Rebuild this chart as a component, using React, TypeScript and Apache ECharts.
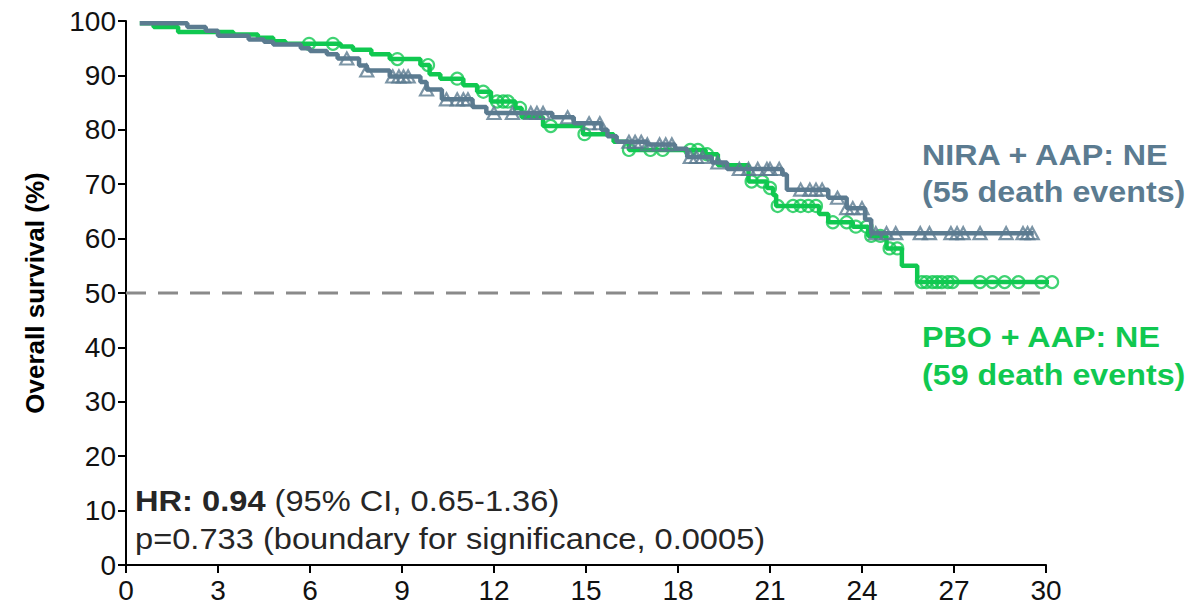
import React, { useEffect, useRef } from "react";
import * as echarts from "echarts";

// Kaplan-Meier step points [month, survival %] (value after each event)
const niraSteps: [number, number][] = [
  [0.45, 99.6], [2.0, 98.9], [2.6, 98.2], [3.0, 97.3], [4.0, 96.6], [4.5, 96.2],
  [4.8, 95.7], [5.7, 95.0], [6.0, 94.5], [6.55, 93.9], [6.9, 93.1], [7.6, 91.8],
  [7.85, 90.9], [8.6, 89.8], [9.6, 88.8], [9.8, 87.4], [10.3, 85.6], [11.3, 84.2],
  [11.75, 83.1], [13.9, 82.3], [14.6, 81.2], [15.5, 80.0], [15.7, 78.8], [16.0, 77.8],
  [17.0, 77.3], [17.9, 76.5], [18.3, 75.0], [19.1, 74.0], [19.6, 72.8], [21.4, 71.8],
  [21.55, 69.0], [22.9, 67.5], [23.5, 65.6], [24.1, 63.5], [24.3, 61.0], [29.6, 61.0],
];
const pboSteps: [number, number][] = [
  [0.45, 99.6], [0.9, 98.9], [1.7, 98.0], [3.5, 97.5], [4.3, 96.9], [4.8, 96.3],
  [5.2, 95.8], [7.0, 95.3], [7.4, 94.7], [8.0, 93.9], [8.6, 93.0], [9.6, 91.9],
  [9.9, 90.2], [10.25, 89.4], [11.0, 88.2], [11.45, 87.0], [11.9, 85.2], [12.7, 84.0],
  [12.9, 82.3], [13.6, 80.7], [14.9, 79.2], [15.9, 77.8], [16.4, 76.3], [18.9, 75.5],
  [19.3, 73.5], [20.3, 70.5], [20.9, 69.3], [21.1, 68.0], [21.2, 66.0], [22.6, 64.5],
  [22.9, 63.0], [23.7, 62.2], [24.2, 60.5], [24.8, 58.2], [25.3, 55.0], [25.8, 52.0],
  [30.2, 52.0],
];

// Censoring times (months)
const niraCensorTimes: number[] = [
  7.2, 7.85, 8.7, 8.9, 9.05, 9.2, 9.8, 10.45, 10.8, 11.0, 11.15, 12.0, 12.6, 13.2, 13.4,
  13.6, 14.4, 15.1, 15.45, 16.4, 16.6, 16.8, 17.0, 17.4, 17.6, 17.8, 18.4, 18.6, 18.8,
  19.3, 20.0, 20.3, 20.6, 20.9, 21.0, 21.3, 22.0, 22.3, 22.5, 22.7, 23.2, 23.5, 23.7,
  24.0, 24.45, 24.8, 25.1, 25.9, 26.2, 26.9, 27.1, 27.3, 27.85, 28.7, 29.25, 29.4, 29.55,
];
const pboCensorTimes: number[] = [
  5.97, 6.75, 8.85, 9.85, 10.8, 11.65, 12.1, 12.3, 12.45, 12.85, 13.85, 14.95, 16.4,
  17.1, 17.5, 18.4, 18.65, 18.95, 20.4, 20.75, 21.0, 21.25, 21.75, 22.0, 22.25, 22.5,
  23.05, 23.5, 23.8, 24.15, 24.3, 24.6, 24.9, 25.15, 25.95, 26.1, 26.3, 26.45, 26.6,
  26.8, 26.95, 27.85, 28.25, 28.65, 29.1, 29.85, 30.2,
];

const medianLine: [number, number][] = [[0, 50], [29.8, 50]];

const yAxisTitle = "Overall survival (%)";
const niraLabel = ["NIRA + AAP: NE", "(55 death events)"];
const pboLabel = ["PBO + AAP: NE", "(59 death events)"];
const hrBold = "HR: 0.94";
const hrRest = " (95% CI, 0.65-1.36)";
const pLine = "p=0.733 (boundary for significance, 0.0005)";

const GRAY = "#5b7b90";
const GREEN = "#10c850";
const FONT = "Arial, 'Liberation Sans', sans-serif";

function survivalAt(steps: [number, number][], t: number): number {
  let v = steps[0][1];
  for (const [x, y] of steps) if (x <= t) v = y;
  return v;
}

export default function App() {
  const ref = useRef<HTMLDivElement>(null);
  useEffect(() => {
    document.body.style.margin = "0";
    if (!ref.current) return;
    const chart = echarts.init(ref.current, null, { renderer: "svg" });
    const axisCommon = {
      type: "value" as const,
      axisLine: { show: true, lineStyle: { color: "#000", width: 2 } },
      axisTick: { show: true, length: 8, lineStyle: { color: "#000", width: 2 } },
      splitLine: { show: false },
      axisLabel: { fontSize: 28, color: "#111", fontFamily: FONT },
    };
    const labelText = (x: number, y: number, text: string, fill: string) => ({
      type: "text",
      x,
      y,
      scaleX: 1.075,
      style: { text, fontSize: 30, fontWeight: "bold", fontFamily: FONT, fill, verticalAlign: "middle" },
    });
    chart.setOption({
      animation: false,
      backgroundColor: "#fff",
      grid: { left: 126, top: 21, width: 920, height: 544 },
      xAxis: { ...axisCommon, min: 0, max: 30, interval: 3, axisLabel: { ...axisCommon.axisLabel, margin: 11 } },
      yAxis: { ...axisCommon, min: 0, max: 100, interval: 10, axisLabel: { ...axisCommon.axisLabel, margin: 10 } },
      series: [
        {
          type: "line",
          data: medianLine,
          symbol: "none",
          lineStyle: { color: "#8a8a8a", width: 3, type: [20, 12] },
          z: 1,
        },
        {
          type: "line",
          step: "end",
          data: pboSteps,
          symbol: "none",
          clip: false,
          lineStyle: { color: GREEN, width: 4.5 },
          z: 2,
        },
        {
          type: "scatter",
          data: pboCensorTimes.map((t) => [t, survivalAt(pboSteps, t)]),
          symbol: "circle",
          symbolSize: 12,
          clip: false,
          itemStyle: { color: "rgba(255,255,255,0)", borderColor: GREEN, borderWidth: 2.2 },
          z: 3,
        },
        {
          type: "line",
          step: "end",
          data: niraSteps,
          symbol: "none",
          clip: false,
          lineStyle: { color: GRAY, width: 4.5 },
          z: 4,
        },
        {
          type: "scatter",
          data: niraCensorTimes.map((t) => [t, survivalAt(niraSteps, t)]),
          symbol: "triangle",
          symbolSize: [13, 12],
          clip: false,
          itemStyle: { color: "rgba(255,255,255,0)", borderColor: GRAY, borderWidth: 2.2 },
          z: 5,
        },
      ],
      graphic: [
        {
          type: "text",
          x: 35,
          y: 293,
          rotation: Math.PI / 2,
          style: {
            text: yAxisTitle,
            fontSize: 26,
            fontWeight: "bold",
            fontFamily: FONT,
            fill: "#000",
            align: "center",
            verticalAlign: "middle",
          },
        },
        labelText(922, 155, niraLabel[0], GRAY),
        labelText(922, 192, niraLabel[1], GRAY),
        labelText(922, 337, pboLabel[0], GREEN),
        labelText(922, 375, pboLabel[1], GREEN),
        {
          type: "text",
          x: 135,
          y: 501,
          scaleX: 1.125,
          style: {
            text: "{b|" + hrBold + "}{r|" + hrRest + "}",
            rich: {
              b: { fontSize: 29, fontWeight: "bold", fontFamily: FONT, fill: "#262626" },
              r: { fontSize: 29, fontFamily: FONT, fill: "#262626" },
            },
            fontSize: 29,
            fontFamily: FONT,
            fill: "#262626",
            verticalAlign: "middle",
          },
        },
        {
          type: "text",
          x: 135,
          y: 539,
          scaleX: 1.125,
          style: { text: pLine, fontSize: 29, fontFamily: FONT, fill: "#262626", verticalAlign: "middle" },
        },
      ],
    });
    return () => chart.dispose();
  }, []);
  return <div ref={ref} style={{ width: 1189, height: 611 }} />;
}
